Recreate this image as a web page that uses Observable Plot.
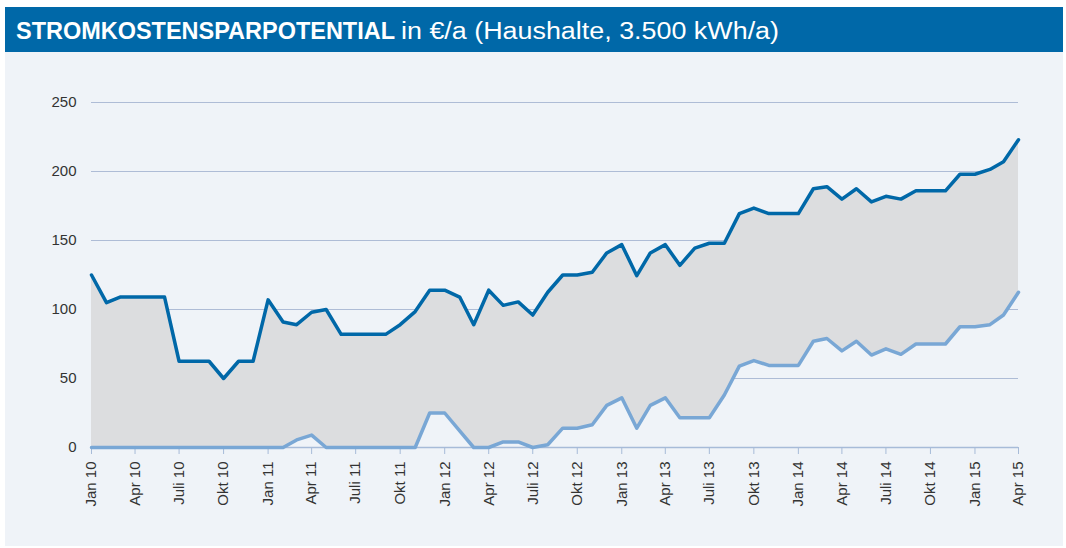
<!DOCTYPE html>
<html>
<head>
<meta charset="utf-8">
<script src="https://cdn.jsdelivr.net/npm/d3@7"></script>
<script src="https://cdn.jsdelivr.net/npm/@observablehq/plot@0.6"></script>
<style>
  html, body { margin: 0; padding: 0; background: #ffffff; }
  #wrap { position: absolute; left: 5px; top: 7px; width: 1058px; }
  #header { display: block; }
  #panel { background: #eff3f8; height: 494px; }
  #panel svg { display: block; }
</style>
</head>
<body>
<div id="wrap">
  <svg id="header" width="1058" height="45" xmlns="http://www.w3.org/2000/svg">
    <rect width="1058" height="45" fill="#0068a8"></rect>
    <text x="11" y="31.5" fill="#fff" font-family="'Liberation Sans', Arial, sans-serif" font-size="23.5" font-weight="bold" textLength="379" lengthAdjust="spacingAndGlyphs">STROMKOSTENSPARPOTENTIAL</text>
    <text x="396" y="31.5" fill="#fff" font-family="'Liberation Sans', Arial, sans-serif" font-size="23.5" textLength="378" lengthAdjust="spacingAndGlyphs">in €/a (Haushalte, 3.500 kWh/a)</text>
  </svg>
  <div id="panel"></div>
</div>
<script>
// Monthly values, Jan 2010 – Apr 2015 (€/a)
const upper = [125, 105, 109, 109, 109, 109, 62.5, 62.5, 62.5, 50, 62.5, 62.5,
  107, 91, 89, 98, 100, 82, 82, 82, 82, 89, 98.5, 114, 114, 109, 89, 114, 103, 105.5, 96, 112.5,
  125, 125, 127, 141, 147, 124.5, 141, 147, 132, 144.5, 148, 148,
  169.5, 173.5, 169.5, 169.5, 169.5, 187.5, 189, 180, 187.5, 178, 182, 180, 186, 186, 186,
  198, 198, 201.5, 207, 223];
const lower = [0, 0, 0, 0, 0, 0, 0, 0, 0, 0, 0, 0,
  0, 0, 5.5, 9, 0, 0, 0, 0, 0, 0, 0, 25, 25, 12, 0, 0, 4, 4, 0, 2,
  14, 14, 16.5, 30.5, 36, 14, 30.5, 36, 21.5, 21.5, 21.5, 38,
  59, 63, 59.5, 59.5, 59.5, 77, 79, 70, 77, 67, 71.5, 67.5, 75, 75, 75,
  87.5, 87.5, 89, 96, 112.5];
const tickLabels = ["Jan 10", "Apr 10", "Juli 10", "Okt 10", "Jan 11", "Apr 11", "Juli 11", "Okt 11",
  "Jan 12", "Apr 12", "Juli 12", "Okt 12", "Jan 13", "Apr 13", "Juli 13", "Okt 13",
  "Jan 14", "Apr 14", "Juli 14", "Okt 14", "Jan 15", "Apr 15"];
const yTicks = [0, 50, 100, 150, 200, 250];

const data = upper.map((u, i) => ({date: new Date(2010, i, 1), upper: u, lower: lower[i]}));
const tickDates = tickLabels.map((_, k) => new Date(2010, k * 3, 1));
const labelOf = new Map(tickDates.map((d, k) => [+d, tickLabels[k]]));

const chart = Plot.plot({
  width: 1058,
  height: 494,
  marginLeft: 86,
  marginRight: 45,
  marginTop: 50,
  marginBottom: 99,
  style: {background: "transparent", fontFamily: "'Liberation Sans', Arial, sans-serif", fontSize: "15px", color: "#333"},
  x: {type: "time", domain: [data[0].date, data[data.length - 1].date]},
  y: {domain: [0, 250]},
  marks: [
    Plot.ruleY(yTicks.filter(d => d > 0), {stroke: "#aebcd6", strokeWidth: 1.2}),
    Plot.areaY(data, {x: "date", y1: "lower", y2: "upper", fill: "#dcdddf"}),
    Plot.ruleY([0], {stroke: "#a7bbd8", strokeWidth: 1.5}),
    Plot.axisX({ticks: tickDates, tickFormat: d => labelOf.get(+d), tickRotate: -90, tickSize: 7, tickPadding: 7, stroke: "#a7bbd8", strokeOpacity: 1, fill: "#333", fontSize: 15, label: null}),
    Plot.axisY({ticks: yTicks, tickSize: 0, tickPadding: 15, fill: "#333", fontSize: 15, label: null}),
    Plot.lineY(data, {x: "date", y: "lower", stroke: "#79a7d5", strokeWidth: 3.5, strokeLinejoin: "round"}),
    Plot.lineY(data, {x: "date", y: "upper", stroke: "#0068a8", strokeWidth: 3.5, strokeLinejoin: "round"})
  ]
});
document.getElementById("panel").appendChild(chart);
</script>
</body>
</html>
